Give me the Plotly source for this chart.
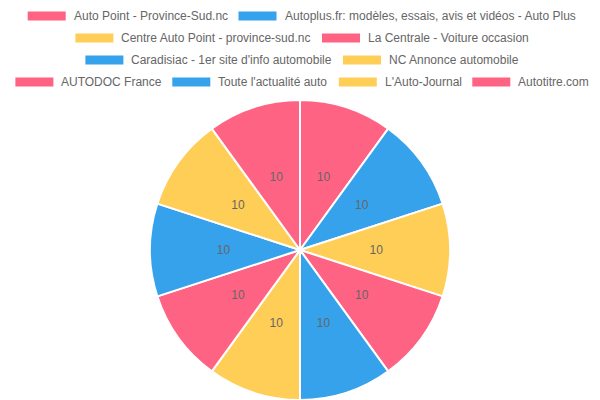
import plotly.graph_objects as go

# data
labels = [
    "Auto Point - Province-Sud.nc",
    "Autoplus.fr: modèles, essais, avis et vidéos - Auto Plus",
    "Centre Auto Point - province-sud.nc",
    "La Centrale - Voiture occasion",
    "Caradisiac - 1er site d'info automobile",
    "NC Annonce automobile",
    "AUTODOC France",
    "Toute l'actualité auto",
    "L'Auto-Journal",
    "Autotitre.com",
]
values = [10, 10, 10, 10, 10, 10, 10, 10, 10, 10]
palette = ["#FF6384", "#36A2EB", "#FFCE56"]
colors = [palette[i % 3] for i in range(len(labels))]

FONT = "Liberation Sans, Arial, sans-serif"
W, H = 600, 400
OFF = 8  # page body margin


def dom(cx, cy, r):
    # pie domain in paper coords from a centre/radius in window px
    cx, cy = cx - OFF, cy - OFF
    return dict(x=[(cx - r) / W, (cx + r) / W], y=[1 - (cy + r) / H, 1 - (cy - r) / H])


fig = go.Figure()
fig.add_trace(go.Pie(
    labels=labels,
    values=values,
    sort=False,
    direction="clockwise",
    rotation=0,
    marker=dict(colors=colors, line=dict(color="white", width=2)),
    textinfo="none",
    domain=dom(300, 250, 150),
    showlegend=False,
    hoverinfo="label+value",
))
# transparent copy, only to put the value labels closer to the centre
fig.add_trace(go.Pie(
    labels=labels,
    values=values,
    sort=False,
    direction="clockwise",
    rotation=0,
    marker=dict(colors=["rgba(0,0,0,0)"] * len(labels), line=dict(width=0)),
    textinfo="value",
    textposition="inside",
    insidetextorientation="horizontal",
    textfont=dict(family=FONT, size=12, color="#666666"),
    domain=dom(300, 250, 100),
    showlegend=False,
    hoverinfo="skip",
))

# chart.js style legend (box left x, row centre y, window px)
legend_pos = [
    (27.7, 16), (238.5, 16),
    (75.4, 38), (322, 38),
    (85.4, 60), (343, 60),
    (15.4, 82), (172.3, 82), (338.8, 82), (472.3, 82),
]
for (bx, by), name, col in zip(legend_pos, labels, colors):
    bx, by = bx - OFF, by - OFF
    fig.add_shape(type="rect", xref="paper", yref="paper",
                  x0=bx / W, x1=(bx + 38) / W,
                  y0=1 - (by - 4.5) / H, y1=1 - (by + 4.5) / H,
                  fillcolor=col, line=dict(width=0))
    fig.add_annotation(x=(bx + 44) / W, y=1 - by / H, xref="paper", yref="paper",
                       text=name, showarrow=False, xanchor="left", yanchor="middle",
                       font=dict(family=FONT, size=12, color="#666666"))

fig.update_layout(
    width=W, height=H,
    margin=dict(l=0, r=0, t=0, b=0),
    paper_bgcolor="white",
    plot_bgcolor="white",
    font=dict(family=FONT),
)

fig.write_html("out.html")
